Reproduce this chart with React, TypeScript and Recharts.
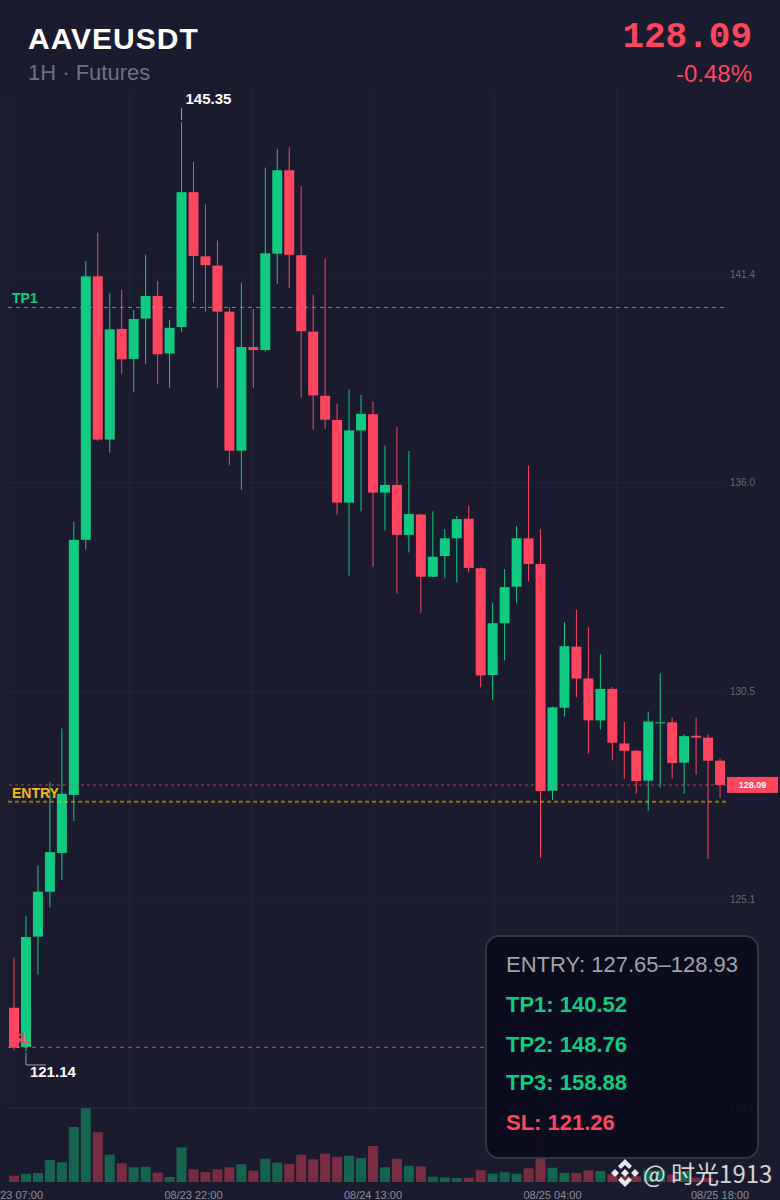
import {
  Bar,
  CartesianGrid,
  Cell,
  ComposedChart,
  ReferenceDot,
  ReferenceLine,
  XAxis,
  YAxis,
} from "recharts";

const times = [
  "08/23 07:00", "08/23 08:00", "08/23 09:00", "08/23 10:00", "08/23 11:00", "08/23 12:00",
  "08/23 13:00", "08/23 14:00", "08/23 15:00", "08/23 16:00", "08/23 17:00", "08/23 18:00",
  "08/23 19:00", "08/23 20:00", "08/23 21:00", "08/23 22:00", "08/23 23:00", "08/24 00:00",
  "08/24 01:00", "08/24 02:00", "08/24 03:00", "08/24 04:00", "08/24 05:00", "08/24 06:00",
  "08/24 07:00", "08/24 08:00", "08/24 09:00", "08/24 10:00", "08/24 11:00", "08/24 12:00",
  "08/24 13:00", "08/24 14:00", "08/24 15:00", "08/24 16:00", "08/24 17:00", "08/24 18:00",
  "08/24 19:00", "08/24 20:00", "08/24 21:00", "08/24 22:00", "08/24 23:00", "08/25 00:00",
  "08/25 01:00", "08/25 02:00", "08/25 03:00", "08/25 04:00", "08/25 05:00", "08/25 06:00",
  "08/25 07:00", "08/25 08:00", "08/25 09:00", "08/25 10:00", "08/25 11:00", "08/25 12:00",
  "08/25 13:00", "08/25 14:00", "08/25 15:00", "08/25 16:00", "08/25 17:00", "08/25 18:00",
];

const opens = [
  122.29, 121.27, 124.14, 125.31, 126.32, 127.83, 134.47, 141.33, 137.08, 139.96,
  139.18, 140.23, 140.82, 139.32, 140.01, 143.52, 141.85, 141.61, 140.41, 136.79,
  139.49, 139.41, 141.92, 144.09, 141.88, 139.89, 138.22, 137.59, 135.44, 137.32,
  137.74, 135.7, 135.9, 134.6, 135.13, 133.51, 134.05, 134.51, 135.02, 133.73,
  130.95, 132.3, 133.25, 134.51, 133.84, 127.94, 130.1, 131.69, 130.86, 129.77,
  130.59, 129.17, 128.98, 128.2, 129.71, 129.72, 128.67, 129.37, 129.32, 128.72,
];
const closes = [
  121.25, 124.13, 125.31, 126.34, 127.86, 134.47, 141.33, 137.08, 139.95, 139.17,
  140.22, 140.82, 139.3, 139.99, 143.52, 141.86, 141.62, 140.41, 136.79, 139.49,
  139.41, 141.93, 144.09, 141.89, 139.9, 138.23, 137.6, 135.44, 137.32, 137.75,
  135.7, 135.9, 134.6, 135.14, 133.51, 134.03, 134.51, 135.01, 133.74, 130.94,
  132.3, 133.24, 134.51, 133.84, 127.93, 130.11, 131.7, 130.86, 129.77, 130.59,
  129.19, 128.98, 128.19, 129.74, 129.72, 128.66, 129.36, 129.32, 128.72, 128.09,
];
const highs = [
  123.6, 124.68, 125.99, 128.17, 129.56, 134.94, 141.73, 142.46, 140.9, 140.98,
  140.46, 141.89, 141.21, 140.2, 145.35, 144.31, 143.2, 142.26, 140.53, 141.16,
  140.48, 144.16, 144.65, 144.69, 143.68, 140.85, 141.79, 138.02, 138.39, 138.24,
  138.07, 136.92, 137.41, 136.78, 135.15, 135.21, 134.75, 135.09, 135.36, 133.75,
  132.84, 133.71, 134.83, 136.4, 134.75, 130.13, 132.33, 132.65, 132.19, 131.5,
  130.64, 129.73, 129.0, 130.0, 130.99, 129.84, 129.41, 129.84, 129.41, 128.77,
];
const lows = [
  121.18, 121.14, 123.15, 124.9, 125.62, 127.15, 134.21, 137.04, 136.74, 138.79,
  138.32, 139.05, 138.53, 138.43, 139.89, 140.65, 140.41, 138.43, 136.42, 135.77,
  138.42, 139.37, 141.13, 141.02, 138.17, 137.34, 137.36, 135.12, 133.54, 135.21,
  133.77, 134.71, 133.07, 134.14, 132.57, 133.5, 133.47, 133.36, 133.62, 130.63,
  130.31, 131.33, 132.82, 133.39, 126.19, 127.7, 129.87, 130.37, 128.91, 129.54,
  128.73, 128.25, 127.86, 127.42, 128.02, 128.25, 127.86, 128.36, 126.16, 127.75,
];
const volumes = [
  6.3, 8.3, 9, 22, 19.7, 55, 73.7, 49.7, 27.3, 18.7,
  14.7, 15.3, 9.3, 5, 34.7, 12.7, 10, 12.7, 14.7, 17.7,
  11.3, 23.3, 19.3, 18, 27.3, 22.7, 28.3, 25.3, 26.3, 24,
  36, 14.7, 23.3, 16.3, 15.7, 5.3, 4.7, 4, 4.3, 11.7,
  8.3, 9.7, 8.3, 13.7, 46.7, 14.3, 9, 9, 11.7, 11,
  7.7, 6, 5.7, 11.7, 11.7, 7.3, 11, 4.3, 4, 1,
];

const priceTicks = [119.68, 125.1, 130.52, 135.96, 141.37];
const xTickLabels = ["08/23 07:00", "08/23 22:00", "08/24 13:00", "08/25 04:00", "08/25 18:00"];

const GREEN = "#0ecb81";
const RED = "#ff4560";
const AMBER = "#f0b90b";
const BG = "#1a1b2e";
const GRID = "rgba(255,255,255,0.035)";

const chartData = times.map((time, i) => ({
  time,
  open: opens[i],
  close: closes[i],
  high: highs[i],
  low: lows[i],
  volume: volumes[i],
}));

// gridlines of the original do not follow the candles
const verticalLines = [8, 129.7, 251.5, 373, 494.7, 616.4];

function Candle(props: any) {
  const { x, y, width, height, payload } = props;
  const color = payload.close >= payload.open ? GREEN : RED;
  const pxPerUnit = height / (payload.high - payload.low);
  const top = y + (payload.high - Math.max(payload.open, payload.close)) * pxPerUnit;
  const bottom = y + (payload.high - Math.min(payload.open, payload.close)) * pxPerUnit;
  const mid = x + width / 2;
  return (
    <g>
      <line x1={mid} x2={mid} y1={y} y2={y + height} stroke={color} strokeWidth={1} />
      <rect x={x} y={top} width={width} height={Math.max(bottom - top, 1)} fill={color} />
    </g>
  );
}

function PriceTag(props: any) {
  const y = props.viewBox.y;
  return (
    <g>
      <rect x={727} y={y - 8} width={51} height={16} fill={RED} />
      <text x={752.5} y={y + 3.5} textAnchor="middle" fill="#fff" fontSize={9} fontWeight={700}>
        128.09
      </text>
    </g>
  );
}

function HighMark(props: any) {
  const { cx, cy } = props;
  return (
    <g>
      <line x1={cx} x2={cx} y1={cy - 14} y2={cy - 2} stroke="#9a9ca6" strokeWidth={1} />
      <text x={cx + 4} y={cy - 18} fill="#fff" fontSize={15} fontWeight={700}>
        145.35
      </text>
    </g>
  );
}

function LowMark(props: any) {
  const { cx, cy } = props;
  return (
    <g>
      <path
        d={`M${cx} ${cy + 1}V${cy + 13}H${cx + 20}`}
        fill="none"
        stroke="#9a9ca6"
        strokeWidth={1}
      />
      <text x={cx + 4} y={cy + 25} fill="#fff" fontSize={15} fontWeight={700}>
        121.14
      </text>
    </g>
  );
}

function levelLabel(value: string, fill: string) {
  return {
    value,
    position: "insideBottomLeft" as const,
    offset: 4,
    fill,
    fontSize: 14,
    fontWeight: 700,
  };
}

export default function App() {
  return (
    <div
      style={{
        position: "absolute",
        left: 0,
        top: 0,
        width: 780,
        height: 1200,
        overflow: "hidden",
        background: BG,
        fontFamily: "'Liberation Sans', Arial, sans-serif",
      }}
    >
      <div style={{ position: "absolute", left: 0, top: 0 }}>
        <ComposedChart
          width={780}
          height={1120}
          data={chartData}
          margin={{ top: 90, right: 0, bottom: 12, left: 8 }}
          style={{ fontFamily: "'Liberation Sans', Arial, sans-serif" }}
        >
          <CartesianGrid stroke={GRID} verticalPoints={verticalLines} syncWithTicks />
          <XAxis dataKey="time" hide />
          <YAxis
            orientation="right"
            width={54}
            domain={[119.68, 146.18]}
            allowDataOverflow
            ticks={priceTicks}
            tickFormatter={(v: number) => v.toFixed(1)}
            tick={{ fill: "#666a78", fontSize: 10 }}
            tickLine={false}
            tickSize={0}
            axisLine={false}
            tickMargin={4}
            interval={0}
          />
          <ReferenceLine y={119.68} stroke="rgba(255,255,255,0.07)" strokeWidth={1} />
          <ReferenceLine
            y={140.52}
            stroke={GREEN}
            strokeOpacity={0.95}
            strokeDasharray="4 4"
            strokeDashoffset={-2}
            label={levelLabel("TP1", GREEN)}
          />
          <ReferenceLine
            y={127.65}
            stroke={AMBER}
            strokeOpacity={0.55}
            strokeWidth={2}
            strokeDasharray="4 3"
            label={levelLabel("ENTRY", AMBER)}
          />
          <ReferenceLine
            y={121.26}
            stroke={RED}
            strokeOpacity={0.9}
            strokeDasharray="4 4"
            strokeDashoffset={-2}
            label={levelLabel("SL", RED)}
          />
          <ReferenceLine
            y={128.09}
            stroke={RED}
            strokeOpacity={0.5}
            strokeWidth={1.5}
            strokeDasharray="3 3"
            label={<PriceTag />}
          />
          <Bar
            dataKey={(d: any) => [d.low, d.high]}
            barSize={10}
            shape={<Candle />}
            isAnimationActive={false}
          />
          <ReferenceDot x={times[14]} y={145.35} r={0} shape={<HighMark />} />
          <ReferenceDot x={times[1]} y={121.14} r={0} shape={<LowMark />} />
        </ComposedChart>
      </div>

      <div style={{ position: "absolute", left: 0, top: 1108 }}>
        <ComposedChart
          width={780}
          height={92}
          data={chartData}
          margin={{ top: 0, right: 54, bottom: 0, left: 8 }}
          style={{ fontFamily: "'Liberation Sans', Arial, sans-serif" }}
        >
          <XAxis
            dataKey="time"
            ticks={xTickLabels}
            interval={0}
            height={18}
            tick={{ fill: "#8b8e9b", fontSize: 11 }}
            tickLine={false}
            axisLine={false}
            tickMargin={3}
          />
          <YAxis hide domain={[0, 74]} allowDataOverflow />
          <Bar dataKey="volume" barSize={10} isAnimationActive={false}>
            {chartData.map((d) => (
              <Cell key={d.time} fill={d.close >= d.open ? GREEN : RED} fillOpacity={0.42} />
            ))}
          </Bar>
        </ComposedChart>
      </div>

      <div style={{ position: "absolute", left: 28, top: 22, color: "#fff", fontSize: 30, fontWeight: 700, letterSpacing: 1 }}>
        AAVEUSDT
      </div>
      <div style={{ position: "absolute", left: 28, top: 60, color: "#6f7285", fontSize: 22 }}>
        1H · Futures
      </div>
      <div
        style={{
          position: "absolute",
          right: 28,
          top: 17,
          color: RED,
          fontSize: 36,
          fontWeight: 700,
          fontFamily: "'Liberation Mono', monospace",
        }}
      >
        128.09
      </div>
      <div style={{ position: "absolute", right: 28, top: 60, color: RED, fontSize: 24 }}>-0.48%</div>

      <div
        style={{
          position: "absolute",
          left: 485,
          top: 935,
          width: 274,
          height: 224,
          boxSizing: "border-box",
          border: "2px solid #35353c",
          borderRadius: 14,
          background: "rgba(10,11,28,0.93)",
          fontSize: 22,
        }}
      >
        {[
          { text: "ENTRY: 127.65–128.93", top: 15, color: "#a3a3a8", weight: 400 },
          { text: "TP1: 140.52", top: 55, color: GREEN, weight: 700 },
          { text: "TP2: 148.76", top: 95, color: GREEN, weight: 700 },
          { text: "TP3: 158.88", top: 133, color: GREEN, weight: 700 },
          { text: "SL: 121.26", top: 173, color: RED, weight: 700 },
        ].map((row) => (
          <div
            key={row.text}
            style={{ position: "absolute", left: 19, top: row.top, color: row.color, fontWeight: row.weight, whiteSpace: "nowrap" }}
          >
            {row.text}
          </div>
        ))}
      </div>

      <svg style={{ position: "absolute", left: 610, top: 1158 }} width={30} height={30}>
        <g fill="rgba(255,255,255,0.9)">
          <polygon points="15,1 22,8 19,11 15,7 11,11 8,8" />
          <polygon points="15,29 22,22 19,19 15,23 11,19 8,22" />
          <polygon points="5,11 9,15 5,19 1,15" />
          <polygon points="25,11 29,15 25,19 21,15" />
          <polygon points="15,11 19,15 15,19 11,15" />
        </g>
      </svg>
      <div
        style={{
          position: "absolute",
          left: 643,
          top: 1155,
          color: "rgba(255,255,255,0.82)",
          fontSize: 24,
          whiteSpace: "nowrap",
          fontFamily: "'Noto Sans CJK SC', 'Noto Sans', sans-serif",
        }}
      >
        @ 时光1913
      </div>
    </div>
  );
}
